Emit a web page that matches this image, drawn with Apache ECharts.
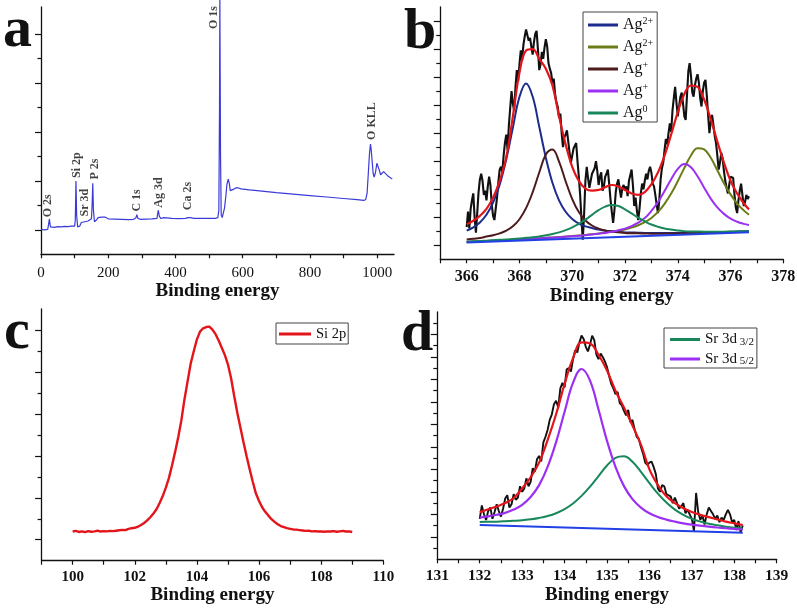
<!DOCTYPE html>
<html><head><meta charset="utf-8">
<script src="https://cdn.jsdelivr.net/npm/echarts@6/dist/echarts.min.js"></script>
<style>html,body{margin:0;padding:0;background:#fff}#c{width:797px;height:610px}</style>
</head><body><div id="c"></div>
<script>
// ---------- Panel a: XPS survey (x = binding energy, y = intensity, arbitrary units) ----------
const surveyData = [[0,1.02],[5,1.05],[10,1.0],[15,1.04],[20,1.02],[23,1.1],[25,1.44],[28,1.12],[33,1.06],[40,1.1],[50,1.13],[60,1.12],[70,1.14],[80,1.13],[90,1.15],[100,1.15],[102,1.4],[104,2.99],[106,1.6],[109,1.12],[115,1.15],[120,1.3],[125,1.35],[130,1.33],[135,1.4],[140,1.36],[145,1.35],[150,1.45],[152,2.0],[154,2.9],[156,1.8],[159,1.33],[165,1.4],[170,1.5],[175,1.57],[180,1.52],[185,1.48],[190,1.52],[195,1.46],[200,1.45],[220,1.44],[240,1.43],[260,1.42],[275,1.43],[282,1.48],[285,1.62],[288,1.47],[295,1.43],[310,1.44],[330,1.45],[345,1.47],[347,1.65],[349,1.8],[352,1.55],[357,1.46],[365,1.5],[370,1.47],[390,1.47],[410,1.46],[430,1.47],[437,1.5],[440,1.57],[444,1.5],[455,1.47],[480,1.47],[500,1.47],[520,1.47],[526,1.5],[529,1.8],[531,6],[532,10.4],[534,4],[536,1.6],[539,1.5],[542,1.55],[546,1.9],[550,2.4],[553,2.85],[557,3.07],[560,2.9],[563,2.6],[567,2.55],[572,2.65],[578,2.7],[585,2.72],[595,2.67],[600,2.66],[620,2.63],[650,2.59],[700,2.52],[750,2.46],[800,2.4],[850,2.34],[900,2.28],[940,2.23],[960,2.2],[966,2.24],[970,2.5],[974,3.4],[977,4.1],[980,4.5],[982,4.3],[985,3.8],[988,3.3],[991,3.15],[995,3.35],[999,3.72],[1002,3.65],[1006,3.45],[1010,3.25],[1015,3.3],[1019,3.38],[1023,3.3],[1030,3.22],[1037,3.15],[1045,3.07]];
const surveyPeakNames = ['O 2s','Si 2p','Sr 3d','P 2s','C 1s','Ag 3d','Ca 2s','O 1s','O KLL'];
const surveyPeakX = [21.7,106,132,160.6,284.6,351,438,514,983.6];
const surveyPeakY = [1.98,3.64,2.11,3.48,2.2,2.52,2.38,9.67,5.44];
const aXTicks = [0,100,200,300,400,500,600,700,800,900,1000];
const aXLabels = [0,200,400,600,800,1000];
const aYMajor = [1,3,5,7,9];
const aYMinor = [2,4,6,8];

// ---------- Panel b: Ag 3d ----------
const xB = [366,366.25,366.5,366.75,367,367.25,367.5,367.75,368,368.25,368.5,368.75,369,369.25,369.5,369.75,370,370.25,370.5,370.75,371,371.25,371.5,371.75,372,372.25,372.5,372.75,373,373.25,373.5,373.75,374,374.25,374.5,374.75,375,375.25,375.5,375.75,376,376.25,376.5,376.7];
const bAg2a = [2.04,2.28,2.63,3.18,4.04,5.33,7.14,9.39,11.58,12.55,11.61,9.46,7.25,5.46,4.21,3.39,2.88,2.55,2.35,2.23,2.12,2.04,2.00,1.96,1.92,1.91,1.90,1.88,1.88,1.88,1.88,1.88,1.88,1.89,1.90,1.91,1.91,1.93,1.94,1.94,1.96,1.98,1.99,2.00];
const bAg2b = [1.25,1.27,1.29,1.31,1.34,1.36,1.38,1.40,1.43,1.46,1.48,1.50,1.54,1.56,1.59,1.63,1.67,1.69,1.74,1.79,1.84,1.90,1.96,2.04,2.13,2.26,2.43,2.65,2.95,3.38,3.96,4.69,5.57,6.52,7.41,7.93,7.84,7.24,6.35,5.43,4.63,3.98,3.49,3.18];
const bAg1a = [1.41,1.47,1.52,1.62,1.71,1.85,2.04,2.35,2.86,3.65,4.78,6.19,7.48,7.84,6.97,5.57,4.30,3.37,2.77,2.41,2.19,2.05,1.98,1.93,1.88,1.86,1.85,1.84,1.83,1.83,1.83,1.84,1.84,1.85,1.86,1.88,1.88,1.89,1.91,1.92,1.93,1.95,1.97,1.97];
const bAg1b = [1.24,1.26,1.28,1.30,1.32,1.35,1.36,1.39,1.41,1.44,1.46,1.49,1.52,1.54,1.57,1.61,1.64,1.68,1.72,1.77,1.83,1.88,1.96,2.07,2.19,2.37,2.61,2.94,3.45,4.09,4.87,5.71,6.45,6.80,6.57,5.92,5.11,4.33,3.70,3.24,2.90,2.68,2.53,2.44];
const bAg0 = [1.26,1.28,1.30,1.33,1.36,1.39,1.41,1.45,1.49,1.53,1.57,1.63,1.71,1.80,1.92,2.08,2.28,2.53,2.83,3.17,3.51,3.76,3.88,3.80,3.57,3.27,2.97,2.71,2.48,2.32,2.20,2.12,2.05,2.01,1.99,1.98,1.97,1.97,1.97,1.97,1.98,1.99,2.00,2.01];
const bEnvelope = [2.5,2.75,3.1,3.6,4.4,5.6,7.3,10.2,13.3,14.9,15.0,14.3,13.6,12.4,10.2,8.2,6.6,5.6,5.05,4.9,4.95,5.15,5.3,5.2,4.95,4.7,4.6,4.8,5.35,6.2,7.4,8.9,10.5,11.8,12.4,12.3,11.4,10.0,8.4,6.9,5.6,4.7,4.0,3.55];
const bBackground = [[366,1.19],[376.7,1.93]];
const bRawStart = 366, bRawStep = 0.05;
const bRaw = [2.3,3.4,2.2,3.6,4.2,4.7,3.0,1.9,3.3,4.8,5.7,6.1,5.6,4.6,4.9,4.2,5.2,5.9,5.3,3.9,
3.1,2.8,3.6,4.4,5.5,6.4,6.6,6.2,7.4,8.3,8.9,7.8,9.6,10.8,12.0,11.1,10.6,12.3,13.5,12.7,
13.9,14.9,14.2,15.3,15.9,16.4,16.5,15.6,15.8,15.2,14.6,15.5,16.1,16.3,15.0,13.5,13.9,14.8,14.3,15.1,
15.7,15.2,14.0,13.6,13.3,12.6,12.9,11.8,11.2,10.9,10.1,10.4,9.0,8.0,8.7,8.9,9.2,8.4,7.6,6.9,
7.4,7.9,8.1,8.3,7.0,5.9,4.6,2.9,1.4,3.2,5.6,6.6,5.8,5.1,5.6,6.1,6.1,6.5,7.0,6.3,
5.3,5.9,6.2,4.9,5.2,5.9,6.1,6.4,5.4,4.3,3.4,2.6,3.5,4.8,5.4,5.7,5.0,4.4,5.1,5.3,
4.9,5.2,4.5,5.6,6.0,6.4,5.3,3.8,4.4,3.5,2.8,3.6,4.7,5.4,5.0,5.6,6.1,5.7,6.3,6.6,
6.2,5.4,5.2,4.6,3.9,3.3,4.2,5.7,6.5,6.9,7.8,8.6,8.2,9.0,9.7,9.1,10.6,11.5,12.3,11.2,
10.2,10.9,11.6,11.9,11.1,10.2,9.95,11.7,13.4,14.0,13.1,11.9,11.6,12.4,12.9,13.2,12.6,11.5,10.9,12.0,
12.6,12.8,11.7,10.3,9.0,9.8,10.3,9.6,8.8,8.3,7.4,6.4,6.9,7.6,7.2,6.3,5.6,5.1,4.7,5.3,
5.9,5.8,5.8,4.6,3.7,3.3,4.2,4.9,5.4,4.6,3.8,4.1,4.6,4.3,4.5];
const bXTicks = [365,366,367,368,369,370,371,372,373,374,375,376,377,378];
const bXLabels = [366,368,370,372,374,376,378];
const bYMajor = [1,3,5,7,9,11,13,15,17];
const bYMinor = [2,4,6,8,10,12,14,16];

// ---------- Panel c: Si 2p ----------
const cStart = 100, cStep = 0.1;
const cSi2p = [1.39,1.42,1.37,1.40,1.36,1.41,1.38,1.40,1.43,1.39,
1.41,1.40,1.42,1.41,1.43,1.45,1.47,1.46,1.52,1.55,
1.57,1.62,1.70,1.80,1.92,2.07,2.25,2.45,2.75,3.08,
3.48,3.95,4.55,5.20,5.90,6.70,7.70,8.55,9.40,10.00,
10.55,10.92,11.08,11.14,11.16,11.02,10.80,10.50,10.15,9.80,
9.35,8.70,7.85,7.05,6.35,5.65,4.98,4.35,3.75,3.20,
2.85,2.55,2.33,2.15,1.98,1.85,1.74,1.65,1.60,1.55,
1.52,1.49,1.48,1.46,1.44,1.42,1.43,1.40,1.41,1.39,
1.40,1.38,1.40,1.39,1.41,1.38,1.40,1.42,1.39,1.40,
1.37];
const cXTicks = [99,100,101,102,103,104,105,106,107,108,109,110];
const cXLabels = [100,102,104,106,108,110];
const cYMajor = [1,3,5,7,9,11];
const cYMinor = [2,4,6,8,10];

// ---------- Panel d: Sr 3d ----------
const xD = [132,132.2,132.4,132.6,132.8,133,133.2,133.4,133.6,133.8,134,134.2,134.4,134.6,134.8,135,135.2,135.4,135.6,135.8,136,136.2,136.4,136.6,136.8,137,137.2,137.4,137.6,137.8,138,138.2];
const dSr32 = [3.32,3.34,3.35,3.38,3.42,3.47,3.56,3.68,3.85,4.10,4.47,4.97,5.64,6.46,7.41,8.34,9.02,9.16,8.68,7.78,6.78,5.84,5.05,4.42,3.96,3.61,3.35,3.16,3.02,2.90,2.81,2.75];
const dSr52 = [3.71,3.82,3.96,4.13,4.42,4.85,5.54,6.60,8.22,10.43,13.12,15.71,16.93,15.90,13.32,10.54,8.23,6.51,5.35,4.60,4.09,3.76,3.53,3.35,3.20,3.08,2.99,2.91,2.83,2.76,2.70,2.65];
const dEnvelope = [4.2,4.45,4.7,5.0,5.45,6.3,7.3,8.6,10.6,12.9,15.6,17.9,19.3,19.2,18.2,16.8,15.0,13.5,11.9,10.2,8.0,6.6,5.6,5.0,4.55,4.2,3.95,3.75,3.55,3.35,3.2,3.05];
const dBackground = [[132,3.05],[138.2,2.37]];
const dRawStart = 132, dRawStep = 0.05;
const dRaw = [3.6,4.8,4.0,3.5,4.3,4.6,3.6,4.2,4.9,4.3,3.8,4.5,5.4,5.7,4.6,4.9,5.8,5.3,5.5,6.5,
6.0,6.3,7.2,6.5,6.9,8.1,7.8,8.9,9.2,8.7,10.4,10.9,11.5,12.4,12.9,13.8,14.1,13.5,15.2,15.7,
15.3,16.9,17.0,16.7,17.8,18.6,18.4,19.3,19.9,19.6,18.9,18.5,19.1,19.9,19.5,18.2,17.8,18.3,18.0,17.6,
17.1,16.3,15.6,15.2,14.7,14.9,13.9,13.7,13.2,12.8,13.3,12.2,12.4,11.6,10.9,10.7,10.0,9.4,8.6,8.4,
8.6,8.7,8.2,7.6,6.3,6.0,6.6,6.5,5.8,5.7,5.6,5.0,5.5,5.0,4.5,4.7,5.0,4.1,4.4,4.0,
3.6,2.5,5.9,4.2,3.5,3.9,3.1,4.0,4.6,4.3,4.0,3.6,3.9,3.3,3.7,3.5,4.0,4.4,4.0,3.3,
3.5,2.6,3.4,2.4,3.0];
const dXTicks = [131,131.5,132,132.5,133,133.5,134,134.5,135,135.5,136,136.5,137,137.5,138,138.5,139];
const dXLabels = [131,132,133,134,135,136,137,138,139];
const dYMajor = [2,4,6,8,10,12,14,16,18,20];
const dYMinor = [1,3,5,7,9,11,13,15,17,19,21];

// ---------- helpers ----------
const F = '"Liberation Serif","Times New Roman",serif';
const INK = '#111';
const zip = (xs, ys) => ys.map((v, i) => [xs[i], v]);
const stepPairs = (start, step, ys) => ys.map((v, i) => [+(start + i * step).toFixed(3), v]);

function xAx(gi, min, max, ticks, labels, fs, bold, nameGap, margin) {
  return {
    type: 'value', gridIndex: gi, min, max, position: 'bottom',
    axisLine: {show: true, onZero: false, lineStyle: {color: INK, width: 1.3}},
    axisTick: {show: true, customValues: ticks, length: 4, lineStyle: {color: INK, width: 1.2}},
    axisLabel: {show: true, customValues: labels, margin, fontFamily: F, fontSize: fs,
      fontWeight: bold ? 'bold' : 'normal', color: INK, showMinLabel: true, showMaxLabel: true,
      formatter: v => String(v)},
    splitLine: {show: false},
    name: 'Binding energy', nameLocation: 'middle', nameGap,
    nameTextStyle: {fontFamily: F, fontSize: 19, fontWeight: 'bold', color: INK, lineHeight: 19}
  };
}
function yAx(gi, max, ticks, len, showLine) {
  return {
    type: 'value', gridIndex: gi, min: 0, max, position: 'left',
    axisLine: {show: showLine, onZero: false, lineStyle: {color: INK, width: 1.3}},
    axisTick: {show: true, customValues: ticks, length: len, lineStyle: {color: INK, width: 1.2}},
    axisLabel: {show: false}, splitLine: {show: false}
  };
}
function line(name, xi, yi, data, color, width, z, smooth, clip) {
  return {type: 'line', name, xAxisIndex: xi, yAxisIndex: yi, data, symbol: 'none',
    smooth: smooth || false, clip: clip !== false, lineStyle: {color, width}, itemStyle: {color},
    z, silent: true, animation: false};
}

const C = {
  navy: '#1d2b8c', olive: '#6b7c18', brown: '#4d1b1b', purple: '#9b30f2',
  green: '#18875a', red: '#e3141a', base: '#2140e6', black: '#111111', survey: '#3a3ad8'
};

const chart = echarts.init(document.getElementById('c'), null, {renderer: 'canvas', width: 797, height: 610});

const agNames = ['Ag2+ (3d5/2)', 'Ag2+ (3d3/2)', 'Ag+ (3d5/2)', 'Ag+ (3d3/2)', 'Ag0'];
const agSup = {'Ag2+ (3d5/2)': '2+', 'Ag2+ (3d3/2)': '2+', 'Ag+ (3d5/2)': '+', 'Ag+ (3d3/2)': '+', 'Ag0': '0'};
const srNames = ['Sr 3d 3/2', 'Sr 3d 5/2'];

const option = {
  animation: false,
  backgroundColor: '#fff',
  textStyle: {fontFamily: F},
  grid: [
    {left: 41, top: 7, width: 353, height: 247.3, outerBoundsMode: 'none'},
    {left: 440.3, top: 7, width: 343, height: 252.3, outerBoundsMode: 'none'},
    {left: 41.6, top: 309, width: 341.7, height: 251.7, outerBoundsMode: 'none'},
    {left: 437.3, top: 312, width: 339.4, height: 247.3, outerBoundsMode: 'none'}
  ],
  xAxis: [
    xAx(0, 0, 1050, aXTicks, aXLabels, 15, false, 26.5, 11),
    xAx(1, 365, 378, bXTicks, bXLabels, 16, true, 27.5, 10),
    xAx(2, 99, 110, cXTicks, cXLabels, 15, true, 21.6, 9),
    xAx(3, 131, 139, dXTicks, dXLabels, 15.5, true, 26, 9)
  ],
  yAxis: [
    yAx(0, 10.1, aYMajor, 6, true), yAx(0, 10.1, aYMinor, 3.5, false),
    yAx(1, 18, bYMajor, 6.5, true), yAx(1, 18, bYMinor, 4, false),
    yAx(2, 12, cYMajor, 6.5, true), yAx(2, 12, cYMinor, 4, false),
    yAx(3, 22, dYMajor, 6.5, true), yAx(3, 22, dYMinor, 4, false)
  ],
  legend: [
    {
      data: agNames, orient: 'vertical', left: 583, top: 12, padding: [4, 4, 1, 5], itemGap: 5,
      itemWidth: 30, itemHeight: 3, icon: 'rect', borderColor: '#444', borderWidth: 1,
      backgroundColor: '#fff', selectedMode: false,
      formatter: n => '{m|Ag}{s|' + agSup[n] + '}',
      textStyle: {color: INK, rich: {
        m: {fontSize: 16, fontFamily: F, lineHeight: 18, color: INK},
        s: {fontSize: 10, fontFamily: F, lineHeight: 10, verticalAlign: 'top', color: INK}
      }}
    },
    {
      data: ['Si 2p'], orient: 'vertical', left: 276, top: 323, padding: [3, 2, 2, 3],
      itemWidth: 32, itemHeight: 3, icon: 'rect', borderColor: '#444', borderWidth: 1,
      backgroundColor: '#fff', selectedMode: false,
      textStyle: {color: INK, fontFamily: F, fontSize: 14.5, lineHeight: 16}
    },
    {
      data: srNames, orient: 'vertical', left: 664, top: 328, padding: [4, 3, 1, 6], itemGap: 4,
      itemWidth: 30, itemHeight: 3, icon: 'rect', borderColor: '#444', borderWidth: 1,
      backgroundColor: '#fff', selectedMode: false,
      formatter: n => '{m|Sr 3d}{s| ' + n.split(' ')[2] + '}',
      textStyle: {color: INK, rich: {
        m: {fontSize: 15, fontFamily: F, lineHeight: 16, color: INK},
        s: {fontSize: 11, fontFamily: F, lineHeight: 13, verticalAlign: 'bottom', color: INK}
      }}
    }
  ],
  graphic: [
    {type: 'text', left: 3, top: 2, style: {text: 'a', font: 'bold 58px "Liberation Serif"', fill: INK}},
    {type: 'text', left: 404, top: 4, style: {text: 'b', font: 'bold 58px "Liberation Serif"', fill: INK}},
    {type: 'text', left: 4, top: 304, style: {text: 'c', font: 'bold 58px "Liberation Serif"', fill: INK}},
    {type: 'text', left: 401, top: 306, style: {text: 'd', font: 'bold 58px "Liberation Serif"', fill: INK}}
  ],
  series: [
    // panel a
    line('survey', 0, 0, surveyData, C.survey, 1.2, 3, false, false),
    {
      type: 'scatter', name: 'peaks', xAxisIndex: 0, yAxisIndex: 0, silent: true, z: 6,
      symbolSize: 1, itemStyle: {color: 'rgba(0,0,0,0)'},
      data: surveyPeakNames.map((n, i) => ({name: n, value: [surveyPeakX[i], surveyPeakY[i]]})),
      label: {show: true, position: 'inside', rotate: 90, formatter: '{b}', fontFamily: F,
        fontSize: 12, fontWeight: 'bold', color: INK}
    },
    // panel b
    line('raw b', 1, 2, stepPairs(bRawStart, bRawStep, bRaw), C.black, 2.1, 2),
    line(agNames[0], 1, 2, zip(xB, bAg2a), C.navy, 2, 3, 0.4),
    line(agNames[1], 1, 2, zip(xB, bAg2b), C.olive, 2, 3, 0.4),
    line(agNames[2], 1, 2, zip(xB, bAg1a), C.brown, 2, 3, 0.4),
    line(agNames[3], 1, 2, zip(xB, bAg1b), C.purple, 2, 3, 0.4),
    line(agNames[4], 1, 2, zip(xB, bAg0), C.green, 2, 3, 0.4),
    line('bg b', 1, 2, bBackground, C.base, 2, 3),
    line('fit b', 1, 2, zip(xB, bEnvelope), C.red, 2.2, 4, 0.4),
    // panel c
    line('Si 2p', 2, 4, stepPairs(cStart, cStep, cSi2p), C.red, 2.4, 3),
    // panel d
    line('raw d', 3, 6, stepPairs(dRawStart, dRawStep, dRaw), C.black, 1.9, 2),
    line(srNames[0], 3, 6, zip(xD, dSr32), C.green, 2, 3, 0.4),
    line(srNames[1], 3, 6, zip(xD, dSr52), C.purple, 2.2, 3, 0.4),
    line('bg d', 3, 6, dBackground, C.base, 2, 3),
    line('fit d', 3, 6, zip(xD, dEnvelope), C.red, 2.2, 4, 0.4)
  ]
};
chart.setOption(option);
</script></body></html>
